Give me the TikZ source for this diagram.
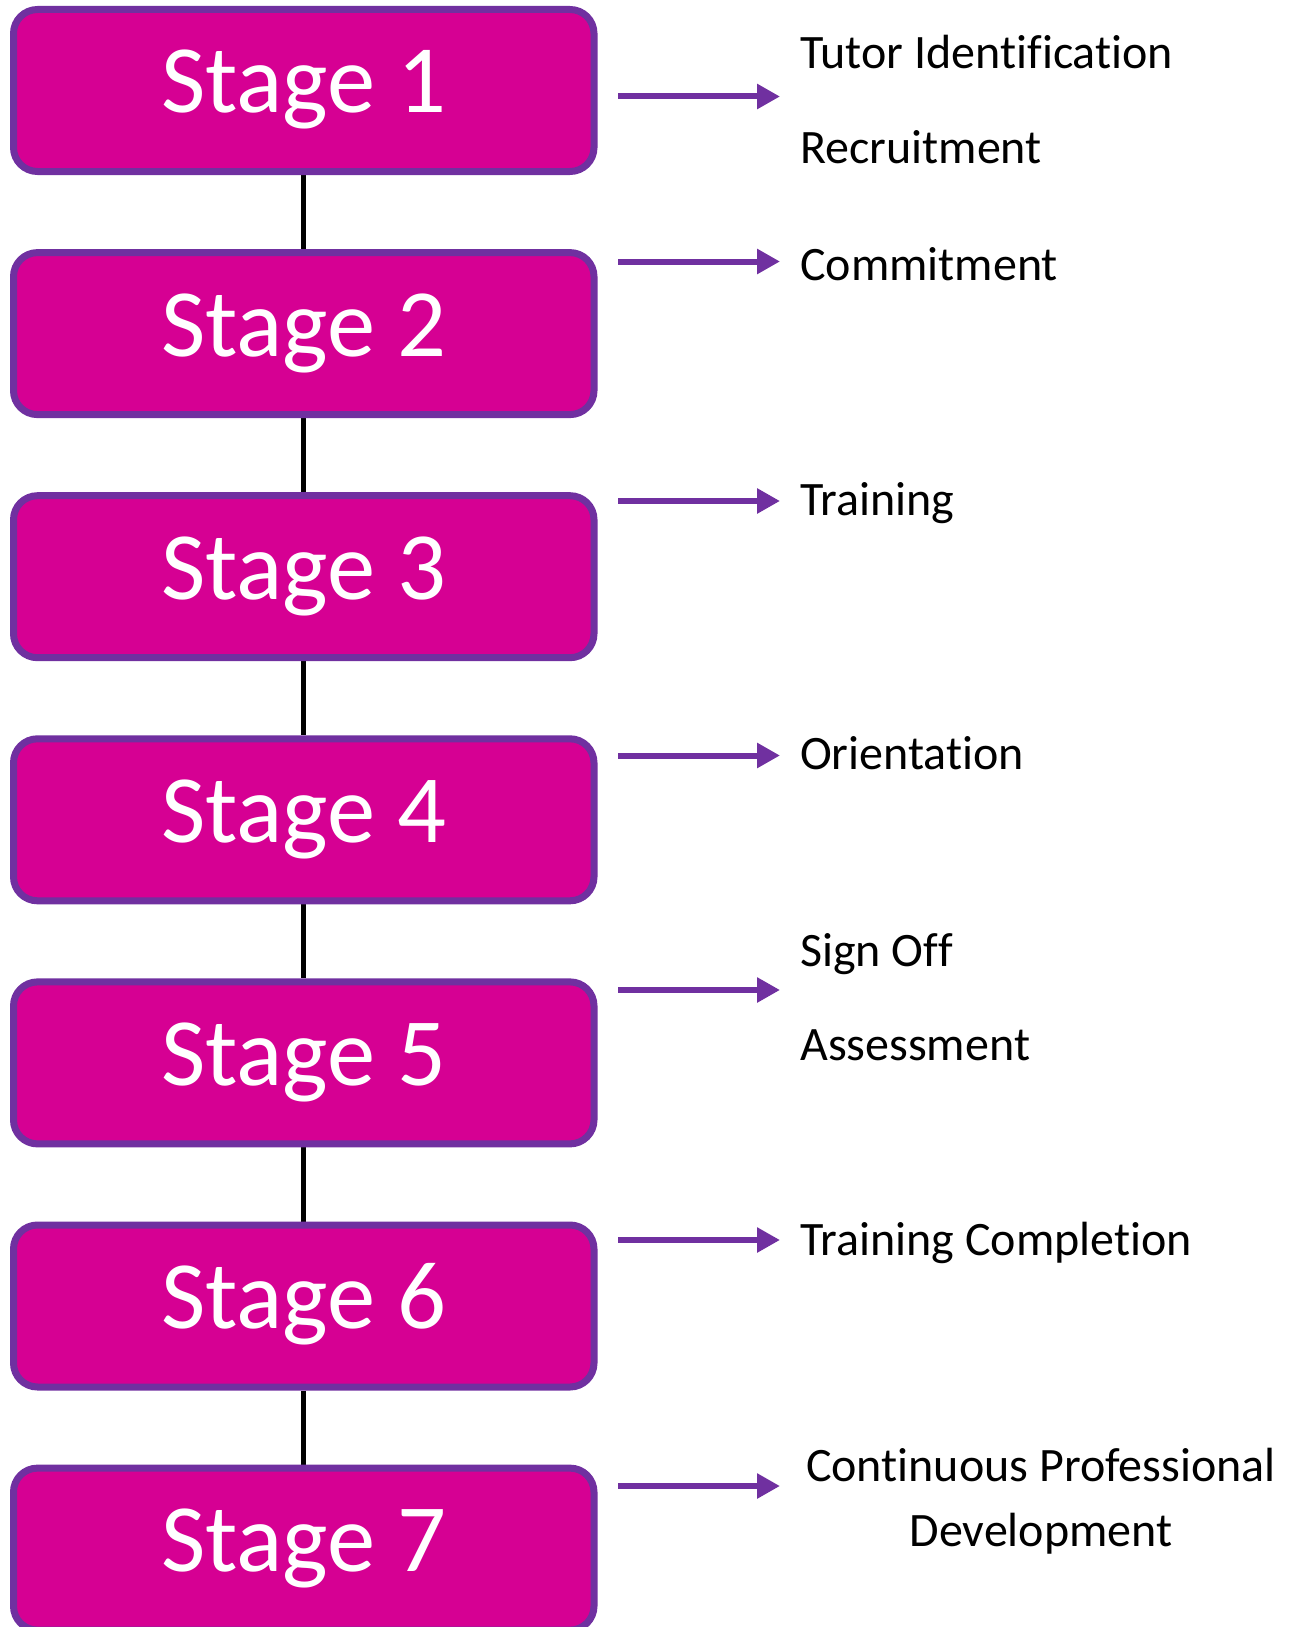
\documentclass[tikz,border=0pt]{standalone}
\usepackage{fontspec}
\setmainfont[Ligatures=NoCommon,RawFeature={-liga;-dlig;-calt;-clig}]{Carlito}
\usetikzlibrary{arrows.meta,backgrounds}
\definecolor{stagepurple}{HTML}{7030A0}
\definecolor{stagefill}{HTML}{D60093}
\newcommand{\nolig}{\kern0pt\relax}
\begin{document}
\begin{tikzpicture}[x=1pt,y=-1pt,
 stagebox/.style={draw=stagepurple, line width=7pt, fill=stagefill, rounded corners=24pt, minimum width=580.5pt, minimum height=162pt, inner sep=0pt, text=white, font=\fontsize{96.5}{96.5}\selectfont, text height=60pt, text depth=15pt},
 link/.style={line width=5pt, black},
 pointer/.style={draw=stagepurple, line width=6pt, -{Triangle[length=23pt,width=24pt]}},
 lbl/.style={anchor=base west, inner sep=0pt, font=\fontsize{48}{58}\selectfont},
 lblc/.style={anchor=base, inner sep=0pt, font=\fontsize{48}{58}\selectfont}]
\useasboundingbox (0,0) rectangle (1292,1627);
\foreach \i in {1,...,7}
  \node[stagebox] (s\i) at (303.75, {90.5+243.1*(\i-1)}) {Stage \i};
\begin{pgfonlayer}{background}
\foreach \i/\j in {1/2,2/3,3/4,4/5,5/6,6/7}
  \draw[link] (s\i.south) -- (s\j.north);
\end{pgfonlayer}
\foreach \k/\y in {1/96.5,2/261.5,3/501,4/755.5,5/990,6/1240,7/1486}{
  \coordinate (a\k s) at (618,\y);
  \coordinate (a\k e) at (780,\y);
  \draw[pointer] (a\k s) -- (a\k e);
}
\node[lbl] (t1) at (800,68.5) {Tutor Identificat\nolig ion};
\node[lbl] (t2) at (800,163) {Recruitment};
\node[lbl] (t3) at (800,280) {Commitment};
\node[lbl] (t4) at (800,515) {Training};
\node[lbl] (t5) at (800,769) {Orientat\nolig ion};
\node[lbl] (t6) at (800,966) {Sign Of\nolig f};
\node[lbl] (t7) at (800,1060) {Assessment};
\node[lbl] (t8) at (800,1255) {Training Complet\nolig ion};
\node[lblc] (t9) at (1041,1481) {Cont\nolig inuous Professional};
\node[lblc] (t10) at (1041,1546) {Development};
\end{tikzpicture}
\end{document}
